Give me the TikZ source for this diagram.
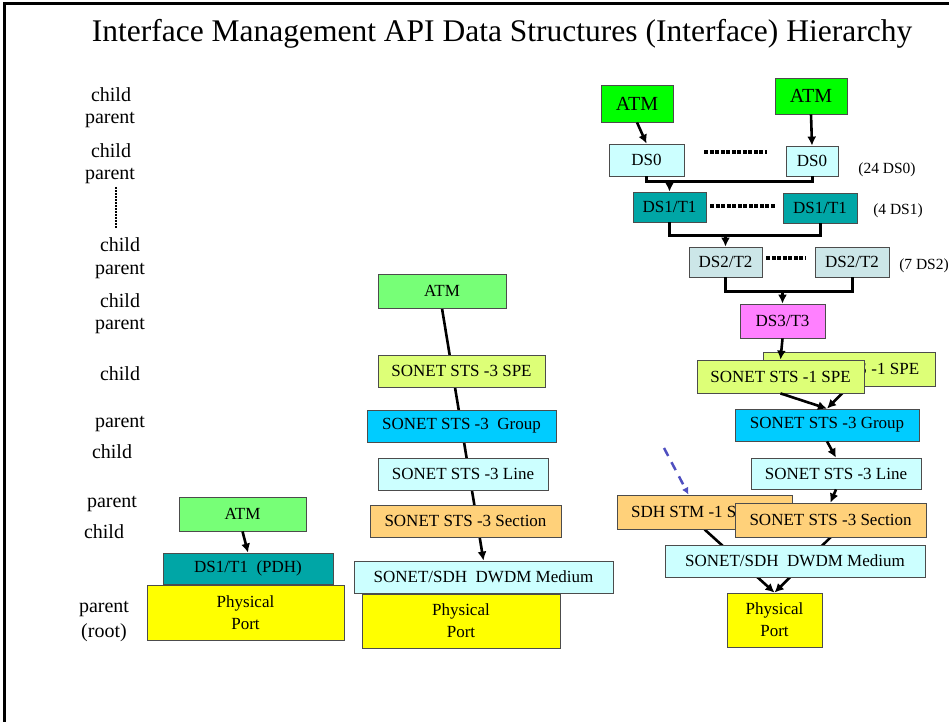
\documentclass[tikz,border=0pt]{standalone}
\usepackage{fontspec}
\setmainfont{Liberation Serif}
\usetikzlibrary{arrows.meta, backgrounds}

\definecolor{colLime}{HTML}{00FF00}
\definecolor{colAtm}{HTML}{77FF77}
\definecolor{colPale}{HTML}{CCFFFF}
\definecolor{colTeal}{HTML}{00A6A6}
\definecolor{colDs2}{HTML}{CCE6E8}
\definecolor{colDs3}{HTML}{FF80FF}
\definecolor{colSpe}{HTML}{DDFF77}
\definecolor{colGrp}{HTML}{00CCFF}
\definecolor{colSec}{HTML}{FFD17A}
\definecolor{colPort}{HTML}{FFFF00}
\definecolor{colHint}{HTML}{4F4FC0}

\begin{document}
\begin{tikzpicture}[x=1pt, y=-1pt]

\tikzset{box/.style = {draw=black!70, line width=0.8pt, inner sep=0pt, minimum height=32pt, align=center, font=\fontsize{17}{22}\selectfont}}
\tikzset{lbl/.style = {inner sep=0pt, font=\fontsize{20}{22}\selectfont}}
\tikzset{note/.style = {inner sep=0pt, font=\fontsize{15.5}{17}\selectfont}}
\tikzset{edge/.style = {-{Latex[length=9pt,width=9pt]}, line width=2.6pt}}
\tikzset{merge/.style = {line width=3pt}}
\tikzset{dots/.style = {line width=3.5pt, dash pattern=on 4pt off 1.5pt}}
\tikzset{vdots/.style = {line width=2pt, dash pattern=on 2pt off 1pt}}
\tikzset{hintline/.style = {-{Latex[length=7pt,width=7pt]}, colHint, line width=2.5pt, dash pattern=on 9pt off 7pt}}

\useasboundingbox (0,0) rectangle (949,722);
\draw[line width=3pt] (949,4) -- (4,4) -- (4,722);

\node[inner sep=0pt, font=\fontsize{31.5}{34}\selectfont] (title) at (502,34) {Interface Management API Data Structures (Interface) Hierarchy};

% level labels
\node[lbl] (lc1) at (111,95) {child};
\node[lbl] (lp1) at (110,120) {parent};
\node[lbl] (lc2) at (111,151) {child};
\node[lbl] (lp2) at (110,176) {parent};
\node[lbl] (lc3) at (120,245) {child};
\node[lbl] (lp3) at (120,271) {parent};
\node[lbl] (lc4) at (120,301) {child};
\node[lbl] (lp4) at (120,326) {parent};
\node[lbl] (lc5) at (120,374) {child};
\node[lbl] (lp5) at (120,424) {parent};
\node[lbl] (lc6) at (112,452) {child};
\node[lbl] (lp6) at (112,504) {parent};
\node[lbl] (lc7) at (104,532) {child};
\node[lbl] (lp7) at (104,609) {parent};
\node[lbl] (lroot) at (104,633) {(root)};
\draw[vdots, shorten <=3pt, shorten >=10pt] ([xshift=6pt]lp2.south) -- ([xshift=-4pt]lc3.north);

% PDH stack
\node[box, fill=colAtm, minimum width=127pt, minimum height=34pt] (atmA) at (242.5,514) {ATM};
\node[box, fill=colTeal, minimum width=170pt, minimum height=31pt] (pdh) at (248,568.5) {DS1/T1\ \ (PDH)};
\node[box, fill=colPort, minimum width=197pt, minimum height=55pt] (portA) at (245.5,612.5) {Physical\\Port};

% STS-3 stack
\node[box, fill=colAtm, minimum width=128pt, minimum height=34pt] (atmB) at (442,291) {ATM};
\node[box, fill=colSpe, minimum width=167pt] (spe3) at (461.5,371) {SONET STS -3 SPE};
\node[box, fill=colGrp, minimum width=189pt] (grp3B) at (461.5,426) {SONET STS -3\ \ Group};
\node[box, fill=colPale, minimum width=170pt] (line3B) at (463,474) {SONET STS -3 Line};
\node[box, fill=colSec, minimum width=191pt] (sec3B) at (465.5,521) {SONET STS -3 Section};
\node[box, fill=colPale, minimum width=259pt] (dwdmB) at (483.5,577) {SONET/SDH\ \ DWDM Medium};
\node[box, fill=colPort, minimum width=198pt, minimum height=54pt] (portB) at (461,621) {Physical\\Port};

% channelized stack
\node[box, fill=colLime, minimum width=72pt, minimum height=37pt, font=\fontsize{20}{22}\selectfont] (atmC) at (637,103.5) {ATM};
\node[box, fill=colLime, minimum width=72pt, minimum height=36pt, font=\fontsize{20}{22}\selectfont] (atmD) at (811,96) {ATM};
\node[box, fill=colPale, minimum width=75pt] (ds0a) at (646.5,160) {DS0};
\node[box, fill=colPale, minimum width=52pt, minimum height=30pt] (ds0b) at (812,161) {DS0};
\node[box, fill=colTeal, minimum width=73pt, minimum height=30pt] (ds1a) at (669.5,207) {DS1/T1};
\node[box, fill=colTeal, minimum width=74pt, minimum height=30pt] (ds1b) at (820,208) {DS1/T1};
\node[box, fill=colDs2, minimum width=73pt, minimum height=30pt] (ds2a) at (725.5,262) {DS2/T2};
\node[box, fill=colDs2, minimum width=74pt, minimum height=30pt] (ds2b) at (852,262) {DS2/T2};
\node[box, fill=colDs3, minimum width=85pt, minimum height=34pt] (ds3) at (782.5,321) {DS3/T3};
\node[box, fill=colSpe, minimum width=172pt, minimum height=34pt] (spe1b) at (849,369) {SONET STS -1 SPE};
\node[box, fill=colSpe, minimum width=167pt, minimum height=33pt] (spe1a) at (780.5,376.5) {SONET STS -1 SPE};
\node[box, fill=colGrp, minimum width=184pt] (grp3C) at (827,425) {SONET STS -3 Group};
\node[box, fill=colPale, minimum width=170pt, minimum height=31pt] (line3C) at (836,473.5) {SONET STS -3 Line};
\node[box, fill=colSec, minimum width=175pt, minimum height=34pt] (stm1) at (704.5,512) {SDH STM -1 Section};
\node[box, fill=colSec, minimum width=191pt, minimum height=34pt] (sec3C) at (830.5,520) {SONET STS -3 Section};
\node[box, fill=colPale, minimum width=260pt] (dwdmC) at (795,561) {SONET/SDH\ \ DWDM Medium};
\node[box, fill=colPort, minimum width=95pt, minimum height=54pt] (portC) at (774.5,620) {Physical\\Port};

\node[note] (n24) at (887,170) {(24 DS0)};
\node[note] (n4) at (898,211) {(4 DS1)};
\node[note] (n7) at (924,266) {(7 DS2)};

% dotted gaps
\draw[dots] ([xshift=20pt, yshift=8pt]ds0a.east) -- ([xshift=-19pt, yshift=9pt]ds0b.west);
\draw[dots] ([xshift=4pt, yshift=1pt]ds1a.east) -- ([xshift=-8pt, yshift=2pt]ds1b.west);
\draw[dots] ([xshift=4pt, yshift=4pt]ds2a.east) -- ([xshift=-9pt, yshift=4pt]ds2b.west);

% edges
\coordinate (j1) at ([yshift=10pt]ds1a.north);
\coordinate (j2) at ([yshift=11pt]ds2a.north);
\coordinate (j3) at ([yshift=12pt]ds3.north);
\coordinate (hintstart) at (664,448);

\draw[edge] (atmA.south) -- (pdh.north);
\draw[edge] (atmC.south) -- (ds0a.north);
\draw[edge] (atmD.south) -- (ds0b.north);
\draw[merge] (ds0b.south) |- (j1);
\draw[edge] (ds0a.south) |- (j1) -- (ds1a.north);
\draw[merge] (ds1b.south) |- (j2);
\draw[edge] (ds1a.south) |- (j2) -- (ds2a.north);
\draw[merge] (ds2b.south) |- (j3);
\draw[edge] (ds2a.south) |- (j3) -- (ds3.north);
\draw[edge] (ds3.south) -- (spe1a.north);
\draw[edge] (spe1a.south) -- (grp3C.north);
\draw[edge] (grp3C.south) -- (line3C.north);
\draw[edge] (line3C.south) -- (sec3C.north);
\draw[hintline] (hintstart) -- ([xshift=-16pt]stm1.north);

\begin{scope}[on background layer]
\draw[edge] (atmB.south) -- (dwdmB.north);
\draw[edge] (spe1b.south) -- (grp3C.north);
\draw[edge] (stm1.south) -- (portC.north);
\draw[edge] (sec3C.south) -- (portC.north);
\end{scope}

\end{tikzpicture}
\end{document}
